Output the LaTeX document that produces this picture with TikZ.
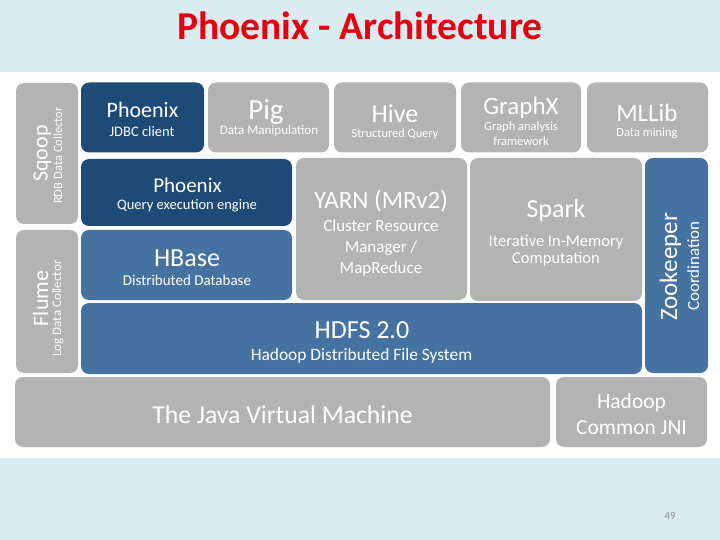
\documentclass[tikz,border=0pt]{standalone}
\usepackage{fontspec}
\setmainfont{Carlito}
\definecolor{bgblue}{HTML}{DAECF2}
\definecolor{boxgray}{HTML}{B3B3B3}
\definecolor{navy}{HTML}{1E4A78}
\definecolor{midblue}{HTML}{4572A1}
\definecolor{titlered}{HTML}{E8000F}
\definecolor{pagenum}{HTML}{8C8C8C}
\begin{document}
\begin{tikzpicture}[x=1pt,y=-1pt,
  blk/.style={rectangle, rounded corners=8pt, inner sep=0pt, draw=none},
  gb/.style={blk, fill=boxgray},
  nb/.style={blk, fill=navy},
  mb/.style={blk, fill=midblue},
  txt/.style={anchor=base, text=white, inner sep=0pt},
  fs/.style={font=\fontsize{#1}{#1}\selectfont}]
\useasboundingbox (0,0) rectangle (720,540);
\fill[bgblue] (0,0) rectangle (720,540);
\fill[white] (0,72) rectangle (720,458);

% title
\node[anchor=base, inner sep=0pt, text=titlered, font=\fontsize{39.5}{39.5}\selectfont\bfseries] (title) at (360,39.5) {Phoenix - Architecture};

% boxes
\node[gb, minimum width=62pt, minimum height=141pt] (sqoop) at (47,153.5) {};
\node[gb, minimum width=62pt, minimum height=143pt] (flume) at (47,301.5) {};
\node[nb, minimum width=123pt, minimum height=70pt] (jdbc) at (142.5,117.5) {};
\node[gb, minimum width=121pt, minimum height=70pt] (pig) at (268.5,117.5) {};
\node[gb, minimum width=122pt, minimum height=70pt] (hive) at (395,117.5) {};
\node[gb, minimum width=120pt, minimum height=70pt] (graphx) at (521,117.5) {};
\node[gb, minimum width=121pt, minimum height=70pt] (mllib) at (647.5,117.5) {};
\node[nb, minimum width=211pt, minimum height=67pt] (qee) at (186.5,192.5) {};
\node[gb, minimum width=171pt, minimum height=142pt] (yarn) at (381.5,229) {};
\node[gb, minimum width=172pt, minimum height=143pt] (spark) at (556,229.5) {};
\node[mb, minimum width=63pt, minimum height=215pt] (zoo) at (676.5,265.5) {};
\node[mb, minimum width=211pt, minimum height=70pt] (hbase) at (186.5,265) {};
\node[mb, minimum width=561pt, minimum height=71pt] (hdfs) at (361.5,338.5) {};
\node[gb, minimum width=535pt, minimum height=70pt] (jvm) at (282.5,412) {};
\node[gb, minimum width=151pt, minimum height=70pt] (jni) at (631.5,412) {};

% rotated texts
\node[txt, fs=22, rotate=90] (sqoopT) at (47.5,153.5) {Sqoop};
\node[txt, fs=12.6, rotate=90] (sqoopS) at (62,155.5) {RDB Data Collector};
\node[txt, fs=22, rotate=90] (flumeT) at (48,298.5) {Flume};
\node[txt, fs=13, rotate=90] (flumeS) at (61,308.5) {Log Data Collector};
\node[txt, fs=25, rotate=90] (zooT) at (677,267) {Zookeeper};
\node[txt, fs=17, rotate=90] (zooS) at (699,266) {Coordination};

% horizontal texts
\node[txt, fs=22] (jdbcT) at (142.5,117.7) {Phoenix};
\node[txt, fs=14.5] (jdbcS) at (142,136.7) {JDBC client};
\node[txt, fs=29] (pigT) at (266,120) {Pig};
\node[txt, fs=13] (pigS) at (269,134.5) {Data Manipulation};
\node[txt, fs=26] (hiveT) at (395,123) {Hive};
\node[txt, fs=12.3] (hiveS) at (395,138) {Structured Query};
\node[txt, fs=25] (graphxT) at (521,115) {GraphX};
\node[txt, fs=12.5] (graphxS) at (521,131) {Graph analysis};
\node[txt, fs=12.5] (graphxS2) at (521,146) {framework};
\node[txt, fs=25] (mllibT) at (647,122) {MLLib};
\node[txt, fs=12.5] (mllibS) at (647,137) {Data mining};
\node[txt, fs=21] (qeeT) at (187.5,193) {Phoenix};
\node[txt, fs=14.5] (qeeS) at (187,210) {Query execution engine};
\node[txt, fs=25] (yarnT) at (381,208) {YARN (MRv2)};
\node[txt, fs=17] (yarnS1) at (381,231) {Cluster Resource};
\node[txt, fs=17] (yarnS2) at (381,252) {Manager /};
\node[txt, fs=17] (yarnS3) at (381,273) {MapReduce};
\node[txt, fs=26] (sparkT) at (556,218) {Spark};
\node[txt, fs=16.5] (sparkS1) at (556,246) {Iterative In-Memory};
\node[txt, fs=16.5] (sparkS2) at (556,263) {Computation};
\node[txt, fs=26] (hbaseT) at (187,266) {HBase};
\node[txt, fs=15] (hbaseS) at (187,285) {Distributed Database};
\node[txt, fs=26] (hdfsT) at (362,338) {HDFS 2.0};
\node[txt, fs=17.4] (hdfsS) at (361.5,360) {Hadoop Distributed File System};
\node[txt, fs=25.7] (jvmT) at (282.5,423) {The Java Virtual Machine};
\node[txt, fs=21.5] (jniT1) at (631.5,408) {Hadoop};
\node[txt, fs=21.5] (jniT2) at (631.5,434) {Common JNI};

% page number
\node[anchor=base, inner sep=0pt, text=pagenum, fs=11] (page) at (670,519) {49};
\end{tikzpicture}
\end{document}
